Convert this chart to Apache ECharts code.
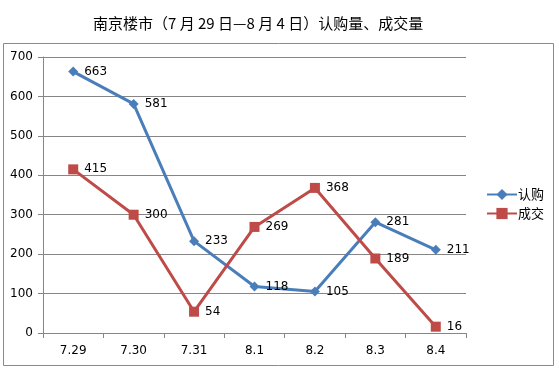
<!DOCTYPE html>
<html><head><meta charset="utf-8">
<script src="https://cdn.jsdelivr.net/npm/echarts@6/dist/echarts.min.js"></script>
<style>html,body{margin:0;padding:0;background:#fff}#c{width:559px;height:369px}</style>
</head><body><div id="c"></div>
<script>
const categories = ['7.29','7.30','7.31','8.1','8.2','8.3','8.4'];
const subscribe = [663,581,233,118,105,281,211];
const deals = [415,300,54,269,368,189,16];
const seriesNames = ['认购','成交'];
const titleText = '南京楼市（7 月 29 日—8 月 4 日）认购量、成交量';

const chart = echarts.init(document.getElementById('c'));
const lbl = {show:true, position:'right', distance:6, color:'#000', fontSize:12, fontFamily:'DejaVu Sans'};
chart.setOption({
  animation:false,
  title:{text:titleText, left:88, top:11, textStyle:{fontSize:15, fontWeight:'normal', color:'#000', fontFamily:'Noto Sans CJK SC'}},
  graphic:[{type:'rect', shape:{x:3.5,y:43.5,width:550,height:322}, style:{fill:'none', stroke:'#8a8a8a', lineWidth:1}, silent:true}],
  legend:{orient:'vertical', left:481, top:183, itemGap:6, itemWidth:30, itemHeight:14,
    textStyle:{fontSize:13, color:'#000', fontFamily:'Noto Sans CJK SC', padding:[0,0,0,-4]},
    data:seriesNames},
  grid:{left:43, right:93, top:57, bottom:36},
  xAxis:{type:'category', data:categories, boundaryGap:true,
    axisLine:{lineStyle:{color:'#868686'}}, axisTick:{show:true, length:5, lineStyle:{color:'#868686'}},
    axisLabel:{color:'#000', fontSize:12, margin:12, fontFamily:'DejaVu Sans'}},
  yAxis:{type:'value', min:0, max:700, interval:100,
    axisLine:{show:true, lineStyle:{color:'#868686'}}, axisTick:{show:true, length:5, lineStyle:{color:'#868686'}},
    splitLine:{lineStyle:{color:'#868686'}},
    axisLabel:{color:'#000', fontSize:12, margin:10, fontFamily:'DejaVu Sans'}},
  series:[
    {name:seriesNames[0], type:'line', data:subscribe, symbol:'diamond', symbolSize:10,
     lineStyle:{width:3, color:'#4a7ebb'}, itemStyle:{color:'#4a7ebb'}, label:lbl},
    {name:seriesNames[1], type:'line', data:deals, symbol:'rect', symbolSize:10,
     lineStyle:{width:3, color:'#be4b48'}, itemStyle:{color:'#be4b48'}, label:lbl}
  ]
});
</script></body></html>
